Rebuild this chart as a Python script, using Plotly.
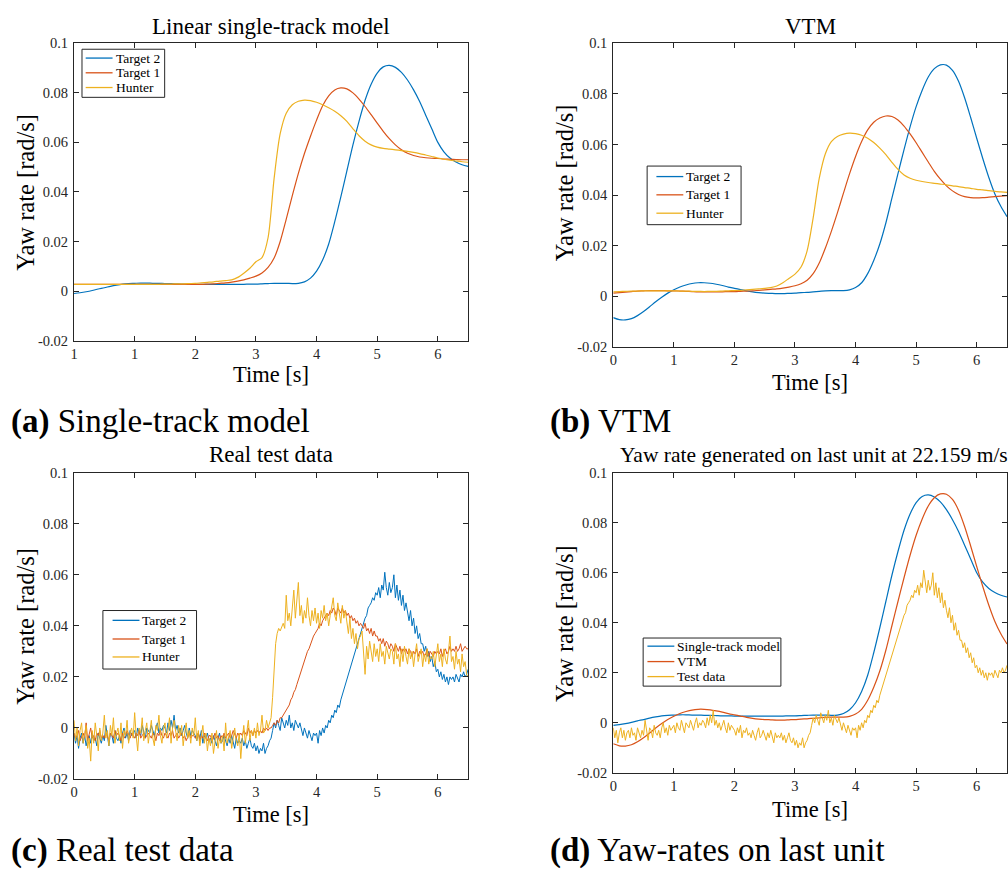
import numpy as np
import plotly.graph_objects as go

W, H = 1008, 879
SERIF = "Liberation Serif, serif"
AX = "#262626"
BLUE, RED, YELLOW = "#0072BD", "#D95319", "#EDB120"

# ---------------- smooth model outputs, yaw rate [rad/s], sampled every 0.1 s ----------------
st_target2 = [
    -0.0010, -0.0007, -0.0003, 0.0002, 0.0008, 0.0013, 0.0019, 0.0024, 0.0028, 0.0030,
    0.0031, 0.0032, 0.0032, 0.0031, 0.0031, 0.0030, 0.0030, 0.0029, 0.0028, 0.0028,
    0.0027, 0.0027, 0.0027, 0.0027, 0.0027, 0.0027, 0.0027, 0.0027, 0.0027, 0.0028,
    0.0028, 0.0029, 0.0030, 0.0031, 0.0031, 0.0031, 0.0030, 0.0031, 0.0037, 0.0052,
    0.0080, 0.0125, 0.0190, 0.0280, 0.0380, 0.0485, 0.0590, 0.0685, 0.0770, 0.0835,
    0.0880, 0.0905, 0.0911, 0.0903, 0.0883, 0.0852, 0.0812, 0.0765, 0.0710, 0.0655,
    0.0600, 0.0562, 0.0537, 0.0521, 0.0510, 0.0503]
st_target1 = [
    0.0027, 0.0027, 0.0027, 0.0027, 0.0027, 0.0027, 0.0027, 0.0027, 0.0027, 0.0027,
    0.0027, 0.0027, 0.0027, 0.0027, 0.0027, 0.0027, 0.0027, 0.0027, 0.0027, 0.0027,
    0.0027, 0.0027, 0.0028, 0.0029, 0.0031, 0.0033, 0.0036, 0.0040, 0.0045, 0.0052,
    0.0060, 0.0073, 0.0095, 0.0133, 0.0200, 0.0290, 0.0385, 0.0475, 0.0555, 0.0625,
    0.0690, 0.0748, 0.0788, 0.0812, 0.0820, 0.0816, 0.0800, 0.0775, 0.0745, 0.0712,
    0.0678, 0.0645, 0.0615, 0.0590, 0.0570, 0.0556, 0.0547, 0.0541, 0.0538, 0.0536,
    0.0535, 0.0533, 0.0532, 0.0531, 0.0530, 0.0530]
st_hunter = [
    0.0027, 0.0027, 0.0027, 0.0027, 0.0027, 0.0027, 0.0027, 0.0027, 0.0027, 0.0027,
    0.0027, 0.0027, 0.0027, 0.0027, 0.0027, 0.0028, 0.0028, 0.0029, 0.0029, 0.0030,
    0.0031, 0.0033, 0.0035, 0.0037, 0.0040, 0.0042, 0.0045, 0.0055, 0.0072, 0.0092,
    0.0118, 0.0135, 0.0215, 0.0455, 0.0635, 0.0718, 0.0752, 0.0766, 0.0771, 0.0769,
    0.0762, 0.0752, 0.0740, 0.0726, 0.0708, 0.0685, 0.0655, 0.0627, 0.0605, 0.0590,
    0.0581, 0.0576, 0.0573, 0.0570, 0.0567, 0.0564, 0.0560, 0.0555, 0.0549, 0.0543,
    0.0537, 0.0532, 0.0528, 0.0525, 0.0522, 0.0520]

vtm_target2 = [
    -0.0084, -0.0092, -0.0093, -0.0088, -0.0076, -0.0060, -0.0041, -0.0021, -0.0003, 0.0013,
    0.0026, 0.0037, 0.0045, 0.0051, 0.0054, 0.0054, 0.0052, 0.0048, 0.0043, 0.0037,
    0.0032, 0.0027, 0.0022, 0.0018, 0.0015, 0.0013, 0.0012, 0.0011, 0.0011, 0.0012,
    0.0013, 0.0015, 0.0016, 0.0018, 0.0020, 0.0022, 0.0023, 0.0023, 0.0023, 0.0026,
    0.0035, 0.0054, 0.0090, 0.0142, 0.0207, 0.0290, 0.0388, 0.0485, 0.0580, 0.0670,
    0.0750, 0.0815, 0.0867, 0.0900, 0.0915, 0.0914, 0.0893, 0.0850, 0.0785, 0.0707,
    0.0625, 0.0545, 0.0470, 0.0405, 0.0355, 0.0315]
vtm_target1 = [
    0.0013, 0.0015, 0.0017, 0.0019, 0.0021, 0.0022, 0.0023, 0.0023, 0.0023, 0.0022,
    0.0022, 0.0021, 0.0020, 0.0019, 0.0018, 0.0018, 0.0018, 0.0018, 0.0018, 0.0019,
    0.0019, 0.0020, 0.0021, 0.0022, 0.0024, 0.0026, 0.0028, 0.0030, 0.0033, 0.0037,
    0.0042, 0.0050, 0.0064, 0.0090, 0.0132, 0.0190, 0.0257, 0.0330, 0.0408, 0.0484,
    0.0553, 0.0612, 0.0658, 0.0688, 0.0705, 0.0713, 0.0711, 0.0697, 0.0673, 0.0642,
    0.0607, 0.0569, 0.0531, 0.0494, 0.0463, 0.0437, 0.0417, 0.0403, 0.0394, 0.0390,
    0.0389, 0.0390, 0.0392, 0.0394, 0.0396, 0.0398]
vtm_hunter = [
    0.0018, 0.0019, 0.0020, 0.0021, 0.0021, 0.0022, 0.0022, 0.0022, 0.0022, 0.0022,
    0.0022, 0.0021, 0.0021, 0.0020, 0.0020, 0.0019, 0.0020, 0.0020, 0.0021, 0.0022,
    0.0023, 0.0024, 0.0026, 0.0028, 0.0030, 0.0032, 0.0035, 0.0041, 0.0054, 0.0071,
    0.0088, 0.0116, 0.0180, 0.0310, 0.0466, 0.0563, 0.0612, 0.0632, 0.0641, 0.0645,
    0.0643, 0.0637, 0.0625, 0.0608, 0.0586, 0.0560, 0.0530, 0.0502, 0.0480, 0.0467,
    0.0459, 0.0454, 0.0450, 0.0447, 0.0444, 0.0441, 0.0437, 0.0434, 0.0430, 0.0427,
    0.0423, 0.0421, 0.0418, 0.0415, 0.0413, 0.0411]

# ---------------- measured yaw rate [mrad/s], sampled every 0.025 s ----------------
test_target2_mrad = [
    -2, -6, -3, -8, -4, -2, -6, -3, -7, -4,
    -3, -6, -2, -5, -4, -7, -2, -4, -6, -3,
    -5, 1, -4, -7, -2, -3, -6, -1, -4, -5,
    -3, -6, -2, 0, -4, -2, -5, -1, -3, -2,
    -1, -4, 0, -2, -3, 1, -2, -4, 0, -1,
    -2, 1, -1, -3, 0, 2, -2, 0, -1, 1,
    0, -2, 2, -1, 3, 0, 5, -1, 1, -2,
    0, -3, -1, 1, -2, -4, 0, -3, -1, -2,
    -3, -5, -2, -4, -1, -6, -3, -4, -2, -5,
    -4, -6, -3, -5, -7, -4, -2, -6, -5, -3,
    -5, -7, -4, -6, -3, -5, -8, -4, -6, -5,
    -6, -4, -7, -5, -8, -6, -4, -7, -8, -6,
    -9, -7, -10, -8, -9, -6, -10, -8, -7, -5,
    -4, -1, 2, 0, 3, 1, -1, 4, 2, 0,
    3, 1, 5, 0, 2, -1, 3, 1, 0, 2,
    -1, -3, 0, -2, -4, -1, -3, -5, -2, -3,
    -2, -6, -1, -3, 0, -2, 1, 0, 3, 2,
    5, 4, 7, 6, 9, 8, 11, 13, 15, 16,
    19, 21, 23, 25, 27, 29, 31, 33, 35, 37,
    39, 41, 43, 44, 47, 48, 49, 51, 50, 53,
    52, 55, 51, 56, 54, 61, 55, 52, 57, 53,
    55, 60, 51, 56, 50, 54, 48, 52, 46, 49,
    45, 42, 46, 40, 43, 37, 40, 35, 37, 33,
    33, 30, 32, 28, 30, 26, 28, 24, 26, 22,
    23, 20, 22, 19, 21, 18, 20, 17, 20, 19,
    20, 18, 21, 19, 18, 21, 20, 22, 20, 21,
    23]
test_target1_mrad = [
    -2, -4, -3, -1, -5, -3, -2, -4, 2, -5,
    -2, 0, -4, -3, -5, -2, -3, -1, -4, -3,
    -4, -2, -3, -5, -2, -3, -4, -1, -3, -2,
    -3, -5, -2, -4, -3, -1, -3, -4, -2, -3,
    -4, -2, -3, -1, -4, -3, -2, -4, -3, -2,
    -3, -4, -2, -3, -5, -2, -3, -1, -3, -4,
    -2, -3, -4, -2, -3, -1, -4, -3, -2, -4,
    -3, -2, -4, -3, -5, -3, -2, -4, -3, -3,
    -4, -3, -2, -5, -3, -4, -2, -4, -5, -3,
    -3, -5, -4, -2, -4, -3, -5, -3, -4, -2,
    -4, -3, -2, -4, -3, -1, -3, -4, -2, -3,
    -2, -3, -1, -2, -3, 0, -2, -1, -3, -1,
    -2, -1, -2, -1, -2, 0, -1, 0, -1, 0,
    0, 1, 2, 1, 3, 2, 4, 4, 5, 6,
    7, 8, 9, 11, 12, 14, 15, 17, 19, 20,
    22, 24, 26, 28, 30, 31, 33, 34, 36, 37,
    38, 39, 41, 40, 42, 43, 44, 45, 44, 46,
    45, 47, 46, 44, 47, 46, 45, 47, 45, 46,
    44, 45, 43, 44, 42, 43, 41, 42, 40, 41,
    40, 39, 41, 38, 39, 37, 39, 36, 38, 36,
    36, 34, 35, 33, 35, 32, 34, 33, 31, 33,
    32, 30, 33, 31, 30, 32, 29, 31, 30, 31,
    29, 31, 30, 28, 30, 29, 31, 28, 30, 29,
    30, 28, 29, 31, 28, 30, 29, 28, 30, 29,
    30, 29, 31, 28, 30, 31, 29, 30, 32, 30,
    31, 30, 32, 30, 31, 33, 30, 31, 32, 31,
    31]
test_hunter_mrad = [
    3, -5, 0, -7, -1, 2, -6, -3, 1, -8,
    -4, -13, -1, -6, 2, -3, -9, 0, -5, -2,
    5, -4, -1, -7, 1, -3, 4, -6, -2, 0,
    -5, 2, -8, -1, -3, 3, -6, -2, 0, -4,
    6, -3, -9, 0, -2, 4, -5, -1, 2, -6,
    -2, 3, -4, -7, 1, -1, 5, -3, -6, 0,
    2, -4, -1, 4, -6, 0, 3, -2, -5, 1,
    -3, 1, -7, -2, 2, -4, -1, -6, 0, -3,
    4, -5, -1, -7, -3, 1, -6, -2, -9, -4,
    -7, -2, -10, -5, -1, -8, -4, -6, -3, -9,
    2, -6, -4, -1, -8, -3, 0, -5, -7, -2,
    -12, -4, 1, -6, -2, 3, -5, -1, -3, 0,
    -4, 2, -3, -1, 5, -2, -1, 3, 0, 2,
    4, 12, 24, 33, 37, 39, 38, 40, 41, 39,
    52, 42, 45, 40, 47, 54, 43, 49, 57, 44,
    48, 41, 46, 43, 51, 44, 40, 46, 42, 47,
    41, 45, 39, 46, 43, 48, 42, 45, 40, 44,
    47, 51, 44, 42, 49, 45, 41, 48, 43, 46,
    41, 37, 43, 35, 39, 33, 37, 31, 35, 36,
    38, 29, 21, 32, 27, 34, 30, 26, 33, 28,
    31, 26, 33, 28, 30, 25, 32, 29, 27, 31,
    30, 25, 33, 27, 29, 24, 31, 26, 32, 28,
    25, 31, 27, 30, 24, 29, 33, 26, 28, 31,
    24, 29, 26, 31, 25, 28, 27, 30, 24, 29,
    33, 26, 29, 24, 31, 27, 25, 30, 36, 26,
    28, 23, 30, 25, 27, 22, 29, 24, 26, 21,
    20]

x_ticks = [0, 1, 2, 3, 4, 5, 6]
x_ticktext_a = ["1", "1", "2", "3", "4", "5", "6"]
x_ticktext = ["0", "1", "2", "3", "4", "5", "6"]
y_ticks = [-0.02, 0, 0.02, 0.04, 0.06, 0.08, 0.1]
y_ticktext = ["-0.02", "0", "0.02", "0.04", "0.06", "0.08", "0.1"]

legend_a = ["Target 2", "Target 1", "Hunter"]
legend_d = ["Single-track model", "VTM", "Test data"]
series_colors = [BLUE, RED, YELLOW]


def model_time(vals):
    return np.round(np.arange(len(vals)) * 0.1, 3)


def test_time(vals):
    return np.round(np.arange(len(vals)) * 0.025, 4)


def mrad(vals):
    return np.asarray(vals, dtype=float) / 1000.0


def px_x(px):
    return px / W


def px_y(py):
    return 1 - py / H


fig = go.Figure()


def add_line(x, y, name, color, axis_idx, smooth):
    sfx = "" if axis_idx == 1 else str(axis_idx)
    fig.add_trace(go.Scatter(
        x=x, y=y, name=name, mode="lines",
        line=dict(color=color, width=1.2 if smooth else 1.0,
                  shape="spline" if smooth else "linear", smoothing=0.8),
        xaxis="x" + sfx, yaxis="y" + sfx, showlegend=False,
    ))


# (a) linear single-track model
add_line(model_time(st_target2), st_target2, "Target 2", BLUE, 1, True)
add_line(model_time(st_target1), st_target1, "Target 1", RED, 1, True)
add_line(model_time(st_hunter), st_hunter, "Hunter", YELLOW, 1, True)
# (b) VTM
add_line(model_time(vtm_target2), vtm_target2, "Target 2", BLUE, 2, True)
add_line(model_time(vtm_target1), vtm_target1, "Target 1", RED, 2, True)
add_line(model_time(vtm_hunter), vtm_hunter, "Hunter", YELLOW, 2, True)
# (c) real test data
add_line(test_time(test_target2_mrad), mrad(test_target2_mrad), "Target 2", BLUE, 3, False)
add_line(test_time(test_target1_mrad), mrad(test_target1_mrad), "Target 1", RED, 3, False)
add_line(test_time(test_hunter_mrad), mrad(test_hunter_mrad), "Hunter", YELLOW, 3, False)
# (d) last unit: both models against the measurement
add_line(model_time(st_target2), st_target2, "Single-track model", BLUE, 4, True)
add_line(model_time(vtm_target2), vtm_target2, "VTM", RED, 4, True)
add_line(test_time(test_target2_mrad), mrad(test_target2_mrad), "Test data", YELLOW, 4, False)

tickfont = dict(family=SERIF, size=14.5, color=AX)


def xaxis(domain, anchor, ticktext):
    return dict(domain=domain, anchor=anchor, range=[0, 6.5],
                tickmode="array", tickvals=x_ticks, ticktext=ticktext,
                ticks="inside", ticklen=5, tickwidth=1, tickcolor=AX,
                showline=True, linecolor=AX, linewidth=1, mirror="ticks",
                showgrid=False, zeroline=False, tickfont=tickfont, fixedrange=True)


def yaxis(domain, anchor):
    return dict(domain=domain, anchor=anchor, range=[-0.02, 0.1],
                tickmode="array", tickvals=y_ticks, ticktext=y_ticktext,
                ticks="inside", ticklen=5, tickwidth=1, tickcolor=AX,
                showline=True, linecolor=AX, linewidth=1, mirror="ticks",
                ticklabelstandoff=2,
                showgrid=False, zeroline=False, tickfont=tickfont, fixedrange=True)


# plot boxes in pixels: left, right, top, bottom
boxes = {
    1: (70.3, 466.0, 36.0, 338.7),
    2: (611.7, 1007.0, 36.0, 345.3),
    3: (70.3, 466.0, 473.3, 785.3),
    4: (611.7, 1007.0, 473.3, 779.0),
}
layout_axes = {}
for i, (l, r, t, b) in boxes.items():
    sfx = "" if i == 1 else str(i)
    layout_axes["xaxis" + sfx] = xaxis([px_x(l), px_x(r)], "y" + sfx,
                                       x_ticktext_a if i == 1 else x_ticktext)
    layout_axes["yaxis" + sfx] = yaxis([px_y(b), px_y(t)], "x" + sfx)

annotations = []
shapes = []


def text(x_px, y_px, s, size, angle=0, xanchor="center", color="black"):
    annotations.append(dict(
        x=px_x(x_px), y=px_y(y_px), xref="paper", yref="paper", text=s,
        showarrow=False, textangle=angle, xanchor=xanchor, yanchor="middle",
        borderpad=0, font=dict(family=SERIF, size=size, color=color),
    ))


def legend_box(left, right, top, bottom, rows, line_x0, line_x1, text_x, names):
    """Boxed key with a short line sample and a label per series."""
    shapes.append(dict(type="rect", xref="paper", yref="paper",
                       x0=px_x(left), x1=px_x(right), y0=px_y(bottom), y1=px_y(top),
                       line=dict(color=AX, width=1), fillcolor="white", layer="above"))
    for row_y, name, color in zip(rows, names, series_colors):
        shapes.append(dict(type="line", xref="paper", yref="paper",
                           x0=px_x(line_x0), x1=px_x(line_x1),
                           y0=px_y(row_y), y1=px_y(row_y),
                           line=dict(color=color, width=1.3), layer="above"))
        text(text_x, row_y, name, 13.5, xanchor="left")


legend_box(78.3, 161.3, 42.0, 91.0, [51.0, 66.0, 81.0], 82, 109, 111, legend_a)
legend_box(645.7, 740.0, 161.0, 220.7, [171.7, 190.3, 209.0], 655, 682, 684, legend_a)
legend_box(99.3, 193.3, 613.7, 673.3, [623.7, 642.7, 661.0], 109, 136, 138, legend_a)
legend_box(641.7, 780.0, 641.7, 690.7, [650.0, 665.7, 681.0], 646, 673, 675, legend_d)

# subplot titles
text(268, 19, "Linear single-track model", 23)
text(810, 19, "VTM", 23)
text(268, 455, "Real test data", 23)
text(813, 455, "Yaw rate generated on last unit at 22.159 m/s", 21.5)
# axis titles
for (l, r, t, b), ylab_y, xlab_dy in zip(boxes.values(), [188, 178, 630, 627], [35, 36, 36, 37]):
    text(l - 49, ylab_y, "Yaw rate [rad/s]", 24.5, angle=-90)
    text((l + r) / 2, b + xlab_dy, "Time [s]", 22.5)
# sub-figure captions
text(6, 421, "<b>(a)</b> Single-track model", 33, xanchor="left")
text(547, 421, "<b>(b)</b> VTM", 33, xanchor="left")
text(6, 858, "<b>(c)</b> Real test data", 33, xanchor="left")
text(547, 858, "<b>(d)</b> Yaw-rates on last unit", 33, xanchor="left")

fig.update_layout(
    width=W, height=H, margin=dict(l=0, r=0, t=0, b=0),
    paper_bgcolor="white", plot_bgcolor="white",
    font=dict(family=SERIF, color="black"),
    showlegend=False,
    annotations=annotations,
    shapes=shapes,
    **layout_axes,
)

fig.write_html("out.html")
